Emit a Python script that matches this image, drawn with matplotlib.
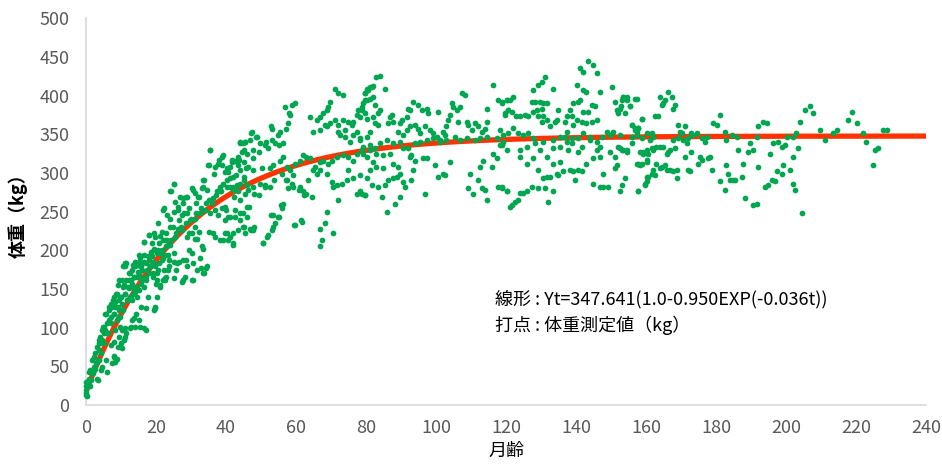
import matplotlib
matplotlib.use('Agg')
import matplotlib.pyplot as plt
import numpy as np

plt.rcParams['font.family'] = ['Noto Sans CJK JP', 'DejaVu Sans']

# 体重測定値 (月齢, kg) - 図から読み取った値
points_0_24 = [
    (0, 24), (0.1, 19), (0, 15), (0.3, 11), (0, 13), (0.6, 28), (0.1, 30), (0.8, 34), (1.2, 45), (2.2, 62),
    (2.7, 67), (3.1, 56), (3.6, 71), (4.1, 80), (4.6, 84), (5.0, 93), (5.5, 97), (6.0, 43), (4.6, 49), (7.4, 54),
    (8.4, 56), (7.9, 62), (8.9, 60), (7.0, 78), (7.9, 82), (10.3, 73), (10.8, 84), (9.3, 88), (11.2, 88), (10.3, 97),
    (8.4, 97), (9.8, 101), (8.9, 110), (6.5, 110), (5.5, 118), (6.5, 123), (7.4, 127),
    (11.2, 99), (12.7, 99), (14.1, 101), (15.5, 101), (16.5, 99), (17.0, 97), (13.1, 110), (15.1, 110), (13.6, 112),
    (17.0, 125), (19.3, 123), (19.8, 125),
    (7.9, 140), (8.9, 144), (9.3, 136), (10.3, 131), (11.2, 144), (11.7, 136), (10.8, 155), (12.2, 151), (13.1, 157),
    (13.6, 151), (14.1, 146), (15.1, 149), (14.6, 166), (16.0, 162), (17.0, 166), (17.4, 174), (17.9, 170), (18.4, 179),
    (15.5, 179), (14.1, 179), (13.1, 174), (11.2, 179), (10.3, 162), (11.2, 183), (16.5, 194), (18.9, 192), (19.3, 200),
    (20.3, 196), (21.7, 200), (23.1, 205), (22.7, 213), (24.1, 207), (20.8, 183), (22.2, 174), (21.2, 153), (20.3, 162),
    (22.7, 164), (23.6, 187), (17.9, 220), (19.3, 222), (16.5, 211), (14.1, 185), (15.5, 190),
    (1.7, 58), (3.1, 75), (4.1, 88), (5.0, 101), (6.0, 106), (7.0, 114), (4.6, 97), (7.9, 118), (8.4, 127), (9.3, 123),
    (9.8, 114), (7.0, 131), (8.4, 133), (6.0, 93), (3.6, 80), (2.2, 49), (1.7, 41), (0.8, 43), (2.7, 47), (3.2, 33),
    (3.6, 58), (9.8, 140), (12.2, 162), (12.7, 170), (13.6, 166), (15.1, 170), (16.0, 174), (12.7, 140), (14.6, 140),
    (13.1, 136), (15.5, 166), (17.0, 183), (17.9, 187), (19.8, 179), (21.7, 187), (18.9, 209), (20.8, 209), (21.2, 218),
    (22.7, 194),
]

points_18_47 = [
    (35.4, 329), (44.0, 338), (45.4, 340), (43.5, 321), (45.0, 314), (45.9, 325), (44.5, 327), (41.6, 317), (41.1, 308),
    (40.7, 301), (42.1, 295), (39.7, 301), (38.8, 310), (37.8, 312), (36.9, 308), (35.0, 310),
    (25.0, 286), (24.0, 276), (25.4, 263), (26.9, 269), (27.8, 267), (28.8, 269), (30.2, 280), (31.1, 274), (32.1, 269),
    (33.0, 280), (33.5, 291), (34.5, 278), (35.0, 265), (35.9, 261), (36.4, 267), (37.3, 276), (38.3, 282), (39.2, 286),
    (40.2, 291), (41.1, 293), (42.1, 282), (43.0, 284), (44.0, 286), (45.0, 291), (45.9, 284), (46.4, 278),
    (22.1, 252), (23.0, 246), (24.0, 241), (25.0, 250), (26.4, 252), (27.3, 246), (28.8, 248), (29.7, 239), (31.1, 241),
    (32.6, 248), (34.0, 252), (35.4, 248), (36.9, 252), (37.8, 246), (38.8, 254), (39.7, 239), (41.1, 243), (42.6, 252),
    (44.0, 248), (45.9, 243),
    (19.7, 217), (21.6, 224), (23.0, 213), (24.0, 230), (25.4, 217), (26.4, 228), (27.3, 226), (28.8, 217), (30.2, 222),
    (31.6, 215), (33.0, 205), (35.0, 224), (36.9, 217), (38.3, 213), (40.2, 222), (42.1, 209), (43.5, 226), (45.4, 222),
    (46.9, 228),
    (18.3, 192), (19.2, 185), (20.7, 200), (22.1, 190), (23.5, 194), (25.0, 185), (25.9, 183), (27.8, 187), (28.8, 179),
    (30.2, 196), (30.7, 183), (32.6, 190), (34.5, 179), (31.6, 174),
    (18.3, 179), (19.2, 166), (20.2, 170), (21.1, 155), (22.6, 162), (23.5, 174), (25.0, 164), (27.3, 159), (28.3, 166),
    (30.2, 162), (33.5, 170), (20.2, 140), (19.7, 127),
]

points_0_65 = [
    (25.2, 286), (24.3, 276), (22.4, 254), (20.5, 235), (18.1, 220), (16.7, 211), (15.2, 194), (11.4, 183), (10.5, 179),
    (9.5, 161), (9.0, 155), (28.6, 269), (30.5, 278), (27.6, 261), (26.2, 256), (32.4, 269), (33.8, 291), (33.3, 282),
    (34.8, 310), (36.7, 299), (38.1, 317), (39.0, 323), (35.5, 330),
    (28.6, 187), (27.6, 162), (30.5, 162), (32.9, 177), (34.3, 177), (33.8, 170), (25.2, 196), (25.7, 174), (23.8, 179),
    (22.9, 166), (26.7, 185), (29.5, 200), (31.0, 215), (32.4, 224), (33.3, 202), (36.2, 222), (39.0, 213), (41.9, 207),
    (41.0, 217), (44.8, 230), (47.1, 226), (48.1, 230), (50.5, 209), (51.9, 220), (53.3, 230), (54.8, 243), (55.7, 258),
    (52.9, 246), (59.5, 233), (61.4, 239),
    (43.8, 317), (44.8, 338), (47.1, 351), (48.6, 347), (51.4, 340), (52.9, 360), (54.8, 349), (56.2, 338), (57.1, 357),
    (57.6, 364), (58.1, 377), (49.5, 327), (47.6, 319), (45.7, 306), (42.9, 297), (41.0, 282), (42.4, 269), (40.0, 252),
    (44.8, 248), (46.7, 256), (48.1, 273), (49.5, 271), (51.0, 282), (53.8, 291), (57.1, 291), (59.0, 282), (61.0, 278),
    (62.4, 271), (63.3, 291), (64.8, 304),
    (1.9, 41), (2.9, 54), (4.3, 67), (5.2, 80), (6.2, 93), (7.1, 106), (8.1, 118), (9.0, 127), (10.0, 140), (11.0, 144),
    (11.9, 153), (12.9, 162), (13.8, 166), (14.8, 172), (15.7, 179), (16.7, 185), (17.6, 192), (18.6, 198), (19.5, 202),
    (5.7, 118), (6.7, 127), (7.6, 136), (8.6, 144), (4.8, 101), (3.8, 84), (9.5, 114), (10.5, 123), (11.9, 136),
    (13.3, 144), (14.3, 153), (15.7, 157), (17.1, 162), (19.0, 170), (20.5, 174), (12.4, 170), (15.2, 185), (13.3, 181),
    (11.4, 162), (10.5, 153), (16.7, 153), (20.0, 157), (21.9, 162), (17.6, 140), (15.7, 127), (14.3, 118), (12.9, 101),
    (11.4, 93), (10.0, 80), (8.1, 63), (9.0, 75), (5.7, 58), (4.3, 45), (3.3, 32), (1.0, 24), (1.4, 32), (2.4, 45),
    (21.0, 196), (22.9, 205), (24.3, 213), (25.7, 222), (27.1, 230), (28.6, 235), (30.0, 241), (31.4, 248), (32.9, 254),
    (34.3, 261), (35.7, 265), (37.1, 271), (38.6, 276), (24.8, 230), (26.7, 239), (28.1, 248), (29.5, 222), (31.0, 230),
    (22.9, 222), (21.9, 213), (31.4, 261), (29.5, 254),
]

points_38_81 = [
    (71.1, 409), (72.1, 403), (73.5, 401), (80.2, 409), (79.7, 403), (81.1, 411), (56.9, 385), (58.8, 388), (59.7, 390),
    (58.3, 375), (53.0, 357), (64.0, 372), (65.9, 368), (66.9, 372), (67.8, 377), (68.8, 381), (69.2, 385), (69.7, 392),
    (65.0, 353), (66.9, 355), (68.3, 362), (68.8, 360), (69.7, 364), (71.1, 368), (72.1, 362), (73.5, 368), (74.0, 355),
    (74.9, 366), (75.9, 362), (76.4, 366), (77.3, 375), (77.8, 381), (78.8, 385), (79.7, 394), (72.1, 353), (72.6, 349),
    (74.0, 347), (75.4, 340), (76.4, 349), (77.3, 353), (78.3, 345), (80.2, 347), (81.1, 353), (47.3, 353), (46.9, 342),
    (45.4, 340), (44.0, 340), (45.0, 329), (47.8, 329), (48.8, 347), (49.7, 338), (51.1, 336), (52.1, 332), (53.0, 342),
    (54.0, 338), (55.0, 336), (55.4, 353),
    (38.8, 321), (40.2, 306), (41.6, 314), (42.6, 316), (43.5, 310), (44.0, 304), (45.0, 295), (46.4, 308), (47.8, 304),
    (50.2, 306), (52.6, 306), (53.5, 310), (55.4, 316), (56.4, 321), (57.3, 308), (58.3, 304), (59.7, 312), (61.1, 316),
    (62.1, 323), (63.0, 321), (64.0, 319), (65.4, 308), (66.9, 314), (67.8, 316), (69.2, 312), (70.2, 316), (71.6, 321),
    (73.5, 323), (74.9, 321), (76.4, 316), (77.3, 325), (78.8, 329), (80.2, 321),
    (38.3, 276), (40.2, 282), (42.1, 278), (43.5, 276), (44.0, 265), (45.4, 273), (45.9, 256), (47.8, 282), (49.7, 286),
    (51.1, 284), (52.6, 282), (55.9, 299), (57.3, 291), (57.8, 280), (58.8, 286), (59.2, 297), (61.1, 282), (62.1, 276),
    (63.0, 273), (64.5, 269), (65.9, 299), (66.9, 304), (68.8, 299), (70.2, 288), (70.7, 282), (71.6, 284), (73.1, 286),
    (74.5, 291), (74.9, 304), (76.4, 293), (77.3, 273), (78.3, 276), (79.7, 271), (80.2, 293), (81.1, 304),
    (39.7, 256), (40.7, 243), (42.6, 243), (44.0, 239), (45.0, 230), (42.1, 222), (40.7, 213), (39.7, 222), (47.8, 226),
    (51.6, 217), (53.0, 226), (53.5, 245), (54.0, 235), (55.0, 243), (55.9, 254), (56.4, 260), (50.7, 209), (59.7, 232),
    (61.6, 237), (66.9, 228), (68.3, 235), (68.8, 250), (67.3, 213), (66.9, 205), (70.7, 222), (72.1, 265),
]

points_78_121 = [
    (83.0, 424), (84.0, 425), (85.4, 408), (81.6, 411), (82.1, 412), (80.7, 407), (79.7, 403), (80.2, 394), (81.1, 396),
    (82.1, 398), (79.2, 390), (78.8, 381), (79.7, 377), (82.6, 388), (83.5, 377), (84.0, 381), (78.3, 372), (80.2, 370),
    (82.1, 372), (82.6, 364), (83.5, 362), (86.4, 364), (87.3, 375), (87.8, 366), (86.9, 372), (90.2, 368), (91.6, 372),
    (92.6, 381), (93.5, 392), (95.0, 388), (92.1, 383), (95.9, 381), (97.3, 383), (97.8, 377), (100.7, 379), (94.0, 362),
    (95.0, 357), (95.4, 351), (92.6, 360), (91.6, 355), (89.7, 364), (89.2, 353), (90.7, 349), (96.9, 360), (98.3, 355),
    (99.2, 351), (100.2, 347), (101.1, 342), (102.1, 353), (102.6, 349), (103.0, 360), (103.5, 368), (104.0, 375),
    (104.5, 390), (105.0, 385), (105.9, 381), (106.9, 385), (107.3, 403), (108.3, 401), (106.4, 366), (108.8, 366),
    (109.2, 362), (110.2, 355), (111.1, 364), (112.1, 360), (113.1, 353), (114.0, 357), (114.5, 366), (114.5, 383),
    (116.4, 413), (117.8, 394), (118.8, 390), (120.2, 394), (119.7, 375), (120.7, 381),
    (78.3, 342), (79.2, 334), (81.1, 336), (82.6, 332), (84.0, 338), (85.9, 342), (87.8, 338), (89.7, 340), (90.7, 332),
    (92.1, 332), (94.0, 338), (95.4, 340), (97.3, 342), (99.2, 345), (101.1, 340), (103.0, 342), (105.4, 347),
    (106.9, 342), (108.8, 345), (111.1, 342), (112.6, 345), (114.5, 347), (117.3, 345),
    (79.2, 325), (81.1, 329), (83.0, 325), (85.0, 323), (86.9, 325), (82.1, 314), (83.0, 308), (85.0, 306), (87.8, 312),
    (89.2, 308), (89.7, 299), (92.6, 321), (93.0, 323), (94.0, 316), (96.4, 319), (97.3, 319), (99.7, 310), (102.1, 299),
    (104.0, 314), (112.6, 308), (113.5, 316), (115.9, 308), (116.4, 325), (117.3, 319), (118.3, 336), (119.2, 340),
    (78.3, 297), (78.8, 273), (79.7, 271), (81.6, 284), (83.5, 282), (85.4, 284), (86.4, 291), (87.8, 293), (88.8, 295),
    (89.7, 269), (90.7, 288), (91.1, 282), (93.0, 291), (93.5, 304), (96.9, 273), (100.7, 295), (102.6, 297), (84.5, 269),
    (88.3, 260), (85.9, 250), (109.7, 299), (109.2, 280), (110.7, 273), (112.1, 291), (113.1, 280), (114.0, 278),
    (114.5, 265), (117.8, 282), (118.8, 280), (120.2, 276), (121.1, 256),
]

points_118_160 = [
    (118.8, 392), (120.2, 394), (122.1, 398), (121.1, 394), (119.7, 377), (120.7, 381), (121.6, 379), (123.0, 373),
    (124.0, 373), (125.4, 375), (126.4, 373), (127.3, 392), (128.3, 392), (129.7, 392), (130.7, 390), (131.6, 390),
    (130.2, 383), (128.8, 381), (127.8, 379), (127.8, 407), (129.2, 414), (130.2, 418), (131.1, 424), (133.5, 409),
    (129.2, 373), (130.2, 366), (130.7, 373), (131.6, 368), (132.6, 360), (134.0, 366), (134.5, 368), (135.0, 381),
    (136.9, 366), (137.3, 373), (138.8, 373), (139.2, 362), (140.2, 368), (138.3, 381), (139.2, 390), (140.7, 392),
    (141.1, 394), (140.2, 414), (142.1, 407), (141.1, 435), (142.1, 431), (143.5, 444), (145.0, 439), (145.9, 429),
    (143.0, 405), (142.1, 379), (143.5, 379), (144.5, 388), (145.4, 386), (141.6, 366), (143.0, 364), (144.5, 366),
    (145.9, 368), (146.9, 405), (150.2, 411), (151.1, 392), (151.6, 381), (152.6, 383), (153.5, 398), (154.5, 398),
    (153.1, 394), (152.1, 377), (155.4, 386), (157.3, 396), (155.9, 362), (156.9, 355), (157.8, 358), (158.8, 370),
    (118.3, 355), (119.2, 349), (120.7, 351), (122.1, 358), (123.5, 351), (125.0, 349), (126.4, 351), (127.8, 345),
    (130.7, 340), (133.5, 342), (135.4, 347), (136.9, 347), (137.3, 353), (138.8, 345), (140.7, 345), (142.1, 351),
    (144.0, 347), (145.9, 340), (147.3, 347), (148.8, 353), (149.7, 349), (150.7, 353), (152.6, 349), (155.9, 347),
    (157.3, 349), (158.8, 345), (160.2, 351),
    (118.8, 336), (120.2, 330), (124.0, 330), (125.9, 334), (128.3, 338), (129.7, 330), (131.6, 321), (133.5, 332),
    (135.4, 334), (137.3, 340), (138.8, 338), (140.7, 327), (141.6, 334), (144.0, 342), (145.9, 330), (146.9, 334),
    (149.7, 327), (152.1, 334), (153.1, 330), (154.5, 330), (158.3, 327), (160.2, 330),
    (124.0, 321), (125.9, 312), (127.8, 319), (133.5, 312), (135.4, 314), (137.8, 330), (145.0, 319), (146.9, 321),
    (151.1, 321), (151.6, 310), (157.3, 312), (158.3, 310), (160.2, 317),
    (129.2, 304), (130.7, 293), (131.6, 295), (132.6, 295), (134.5, 299), (135.0, 297), (136.4, 302), (138.3, 304),
    (139.2, 302), (139.7, 291), (140.7, 304), (141.6, 302), (143.0, 312), (147.8, 299), (151.1, 306), (153.1, 284),
    (154.0, 293),
    (118.8, 282), (120.2, 276), (124.0, 274), (125.0, 274), (125.9, 276), (127.3, 282), (129.2, 280), (131.1, 280),
    (133.5, 276), (145.0, 286), (146.9, 282), (147.8, 282), (149.2, 282), (152.6, 276), (157.8, 276), (159.7, 286),
    (160.2, 295), (159.2, 325),
    (121.6, 258), (122.6, 263), (123.5, 265), (132.1, 263),
]

points_152_229 = [
    (153.5, 398), (154.5, 394), (153.0, 386), (155.4, 386), (156.9, 396), (154.0, 377), (158.8, 370), (162.6, 373),
    (163.5, 373), (164.0, 398), (165.4, 394), (165.0, 390), (164.5, 388), (166.4, 405), (167.3, 398), (168.3, 388),
    (167.8, 383), (155.9, 362), (156.9, 358), (157.8, 358), (157.3, 353), (152.6, 332), (153.5, 330), (154.5, 327),
    (155.9, 338), (157.8, 312), (158.8, 312), (160.2, 314), (157.8, 276), (159.7, 284), (160.2, 289), (160.7, 295),
    (161.6, 299), (162.1, 304), (162.6, 297), (160.7, 325), (161.6, 332), (162.1, 330), (163.0, 334), (164.0, 334),
    (165.0, 334), (161.1, 342), (162.1, 347), (161.6, 351), (159.2, 327), (163.0, 312), (164.0, 306), (164.5, 308),
    (165.4, 310), (165.9, 304), (166.9, 304), (167.8, 302), (168.8, 304), (169.0, 293), (165.9, 325), (166.4, 327),
    (166.9, 330), (168.3, 332), (167.8, 342), (169.2, 345), (169.7, 353), (169.2, 362), (170.2, 351), (171.1, 360),
    (170.7, 342), (171.6, 338), (172.1, 345), (171.1, 321), (172.1, 304), (173.0, 327), (172.6, 302), (173.0, 351),
    (173.5, 349), (174.5, 351), (175.9, 345), (176.9, 340), (177.3, 347), (175.4, 321), (175.0, 312), (175.9, 317),
    (178.3, 321), (177.8, 319), (178.8, 304), (179.2, 364), (180.2, 362), (181.1, 375), (181.1, 289), (182.6, 353),
    (183.0, 342), (182.6, 278), (183.0, 310), (183.5, 299), (184.0, 291), (185.0, 291), (185.4, 291), (184.5, 349),
    (185.9, 347), (186.4, 330), (187.8, 312), (187.3, 295), (188.3, 267), (189.2, 327), (189.7, 338), (190.7, 330),
    (190.7, 258), (191.6, 260), (191.6, 347), (192.1, 308), (192.1, 360), (193.5, 366), (194.5, 364), (194.0, 282),
    (195.0, 284), (195.4, 325), (195.9, 291), (196.9, 289), (196.4, 338), (197.8, 340), (197.3, 302), (198.8, 299),
    (199.2, 310), (198.8, 334), (199.7, 336), (200.2, 347), (201.1, 304), (202.1, 321), (202.1, 286), (202.6, 278),
    (202.1, 347), (203.0, 351), (203.5, 332), (204.0, 366), (204.5, 248), (205.4, 381), (206.9, 386), (207.8, 377),
    (209.7, 355), (211.1, 342), (213.5, 351), (214.5, 355), (217.8, 368), (218.8, 379), (220.2, 364), (222.1, 351),
    (223.0, 340), (225.0, 310), (225.4, 330), (226.4, 332), (227.8, 355), (228.8, 356),
]

# 回帰式 Yt = A(1.0 - B EXP(-k t)) のパラメータ（図中の表記）
A, B, K = 347.641, 0.950, 0.036
x_ticks = list(range(0, 241, 20))
y_ticks = list(range(0, 501, 50))

pts = np.array(points_0_24 + points_18_47 + points_0_65 + points_38_81
               + points_78_121 + points_118_160 + points_152_229)

fig = plt.figure(figsize=(9.42, 4.66), dpi=100)
ax = fig.add_axes([0.0913, 0.131, 0.8917, 0.830])

t = np.linspace(0, 240, 400)
ax.plot(t, A * (1.0 - B * np.exp(-K * t)), color='#FF3300', lw=3.8, zorder=2, solid_capstyle='round')
ax.scatter(pts[:, 0], pts[:, 1], s=17, color='#00A650', linewidths=0, zorder=3, clip_on=False)

ax.set_xlim(0, 240)
ax.set_ylim(0, 500)
ax.set_xticks(x_ticks)
ax.set_yticks(y_ticks)
ax.tick_params(length=0, labelsize=13, labelcolor='#595959')
ax.tick_params(axis='y', pad=12)
ax.tick_params(axis='x', pad=10)

for side in ['top', 'right']:
    ax.spines[side].set_visible(False)
for side in ['left', 'bottom']:
    ax.spines[side].set_color('#D9D9D9')
    ax.spines[side].set_linewidth(1.2)

ax.set_xlabel('月齢', fontsize=13, color='#000000', labelpad=4)
ax.set_ylabel('体重（kg）', fontsize=13, fontweight='bold', color='#000000', labelpad=8)

ax.text(117, 136, '線形 : Yt=347.641(1.0-0.950EXP(-0.036t))', fontsize=13, va='center', ha='left')
ax.text(117, 103, '打点 : 体重測定値（kg）', fontsize=13, va='center', ha='left')

fig.savefig('out.png', dpi=100)
